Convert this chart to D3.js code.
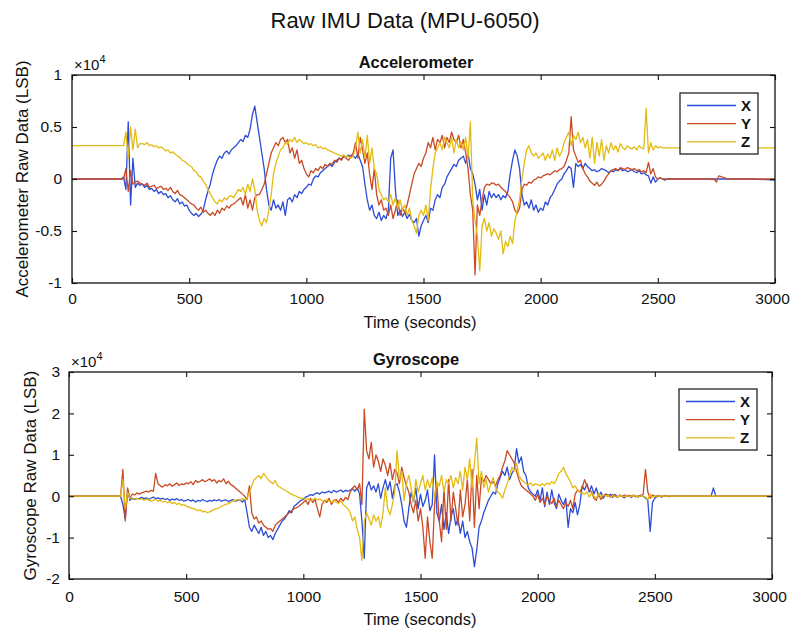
<!DOCTYPE html>
<html>
<head>
<meta charset="utf-8">
<script src="https://cdn.jsdelivr.net/npm/d3@7"></script>
<style>
  body { margin: 0; background: #fff; }
  svg text { font-family: "Liberation Sans", Arial, Helvetica, sans-serif; fill: #111; }
</style>
</head>
<body>
<svg id="chart" width="791" height="634"></svg>
<script>
// time base in seconds: flat start, 10 s samples over the active part, sparse tail
const headTime = [0];
const denseTime = d3.range(200, 2600, 10);
const tailTime = [2650, 2700, 2740, 2750, 2760, 2800, 2900, 3000];
const time = headTime.concat(denseTime, tailTime);

// all values below are in units of 100 LSB
const accelX = [0,
  0,0,2,-10,55,-25,20,-8,-4,-6,
  -5,-8,-6,-10,-9,-12,-10,-14,-12,-15,
  -14,-18,-16,-20,-22,-19,-24,-22,-26,-25,
  -30,-33,-35,-33,-36,-34,-30,-20,-12,-5,
  5,12,18,22,20,25,27,24,28,30,
  32,35,38,36,42,40,48,62,70,55,
  40,25,10,-10,-25,-30,-20,-28,-25,-30,
  -22,-35,-20,-18,-22,-15,-18,-12,-14,-10,
  -8,-5,-6,0,3,2,6,8,10,12,
  14,12,16,18,20,19,22,21,23,22,
  22,20,24,18,12,-5,-20,-30,-25,-35,
  -38,-32,-40,-35,-38,-30,20,28,-10,-35,
  -30,-36,-32,-38,-34,-40,-42,-38,-55,-45,
  -40,-35,-42,-28,-30,-20,-15,-18,-8,-5,
  2,6,10,14,12,18,20,22,15,25,
  10,5,-5,-20,-10,-30,-15,-25,-12,-18,
  -14,-18,-15,-20,-16,-18,-12,5,18,28,
  22,10,-15,-25,-22,-28,-20,-30,-25,-32,
  -28,-30,-22,-25,-18,-15,-10,-5,-2,0,
  5,8,12,10,-8,15,12,14,10,15,
  12,10,8,9,7,8,10,9,8,6,
  8,7,9,8,10,8,9,7,8,9,
  7,6,8,5,6,4,3,-4,2,-3,
  0,1,0,-1,0,0,0,0,0,0,
  0,0,0,0,0,0,0,-1];

const accelY = [0,
  0,0,0,10,-12,8,-5,-3,-2,-4,
  -5,-6,-4,-8,-7,-6,-9,-8,-7,-10,
  -9,-11,-8,-12,-14,-11,-15,-16,-18,-20,
  -22,-24,-25,-28,-30,-27,-32,-30,-33,-35,
  -32,-35,-30,-33,-28,-30,-26,-28,-25,-24,
  -22,-20,-18,-25,-15,-28,-20,-30,-18,-15,
  -15,-10,-5,5,15,25,30,35,32,38,
  40,35,38,25,30,20,28,15,18,10,
  5,2,8,6,10,8,12,10,14,12,
  15,14,18,16,20,18,22,20,18,22,
  25,35,20,40,28,15,25,5,-10,10,
  -15,-25,-20,-30,-28,-35,-25,-38,-30,-20,
  -35,-28,-32,-25,-15,-5,5,10,15,12,
  20,25,35,30,40,28,38,35,42,30,
  40,35,45,38,35,42,30,38,25,10,
  -15,-30,-92,-25,-35,-20,-8,-5,-6,-4,
  -4,-6,-5,-8,-10,-12,-15,-18,-22,-30,
  -33,-28,-10,-5,-6,-3,-4,-1,0,2,
  1,3,4,5,4,6,8,7,9,10,
  12,18,25,60,28,22,16,18,10,5,
  2,-2,-4,-6,-3,-7,-5,-2,2,5,
  8,9,10,8,11,10,9,11,10,9,
  10,8,9,7,8,6,16,5,10,2,
  0,1,0,0,0,0,0,0,0,0,
  0,0,0,-3,3,0,0,0];

const accelZ = [32,
  32,32,32,45,20,50,28,48,30,34,
  34,33,35,32,33,31,32,30,31,29,
  27,28,25,26,24,22,21,18,17,15,
  13,12,8,7,3,2,-2,-5,-10,-14,
  -18,-22,-24,-20,-22,-18,-20,-17,-16,-18,
  -14,-10,-12,-8,-15,-5,-12,0,-10,-30,
  -40,-45,-38,-42,-30,-15,5,15,22,28,
  30,35,33,38,36,40,35,38,36,34,
  35,33,34,32,33,30,31,29,30,28,
  27,26,25,24,23,22,23,21,22,20,
  22,30,45,25,38,20,42,15,30,10,
  5,-10,-15,-20,-18,-22,-15,-25,-18,-28,
  -20,-30,-25,-35,-28,-40,-45,-52,-35,-30,
  -35,-25,-40,-10,10,25,30,35,28,40,
  35,30,40,25,38,30,35,28,40,20,
  55,-20,-40,-55,-88,-45,-38,-50,-42,-55,
  -48,-52,-58,-50,-72,-60,-65,-55,-62,-40,
  -30,-20,0,15,28,32,25,22,25,20,
  22,25,18,24,20,28,18,30,22,26,
  35,40,45,32,42,38,45,35,40,30,
  38,20,40,15,35,22,38,18,32,25,
  35,28,32,26,34,30,28,32,30,29,
  31,28,32,30,29,68,25,35,28,32,
  30,31,30,30,30,30,30,30,30,30,
  30,30,30,30,30,30,30,30];

const gyroX = [0,
  0,0,0,-20,-55,15,-10,-5,-8,-6,
  -5,-3,-6,-4,-8,-5,-2,-6,-4,-7,
  -5,-8,-6,-10,-7,-9,-6,-10,-8,-12,
  -10,-8,-12,-9,-14,-10,-12,-8,-11,-13,
  -10,-12,-9,-11,-8,-12,-10,-9,-13,-10,
  -8,-12,-10,-9,-14,-8,-40,-75,-85,-70,
  -80,-90,-75,-95,-85,-100,-95,-105,-90,-80,
  -70,-60,-55,-45,-35,-40,-25,-20,-15,-10,
  -8,-2,0,4,2,6,8,5,10,8,
  10,12,8,14,10,12,15,10,14,12,
  15,18,12,20,5,-60,-150,20,35,15,
  25,10,30,-5,20,40,15,35,-5,25,
  30,10,-20,-60,-75,-30,10,-15,20,-30,
  5,-25,-10,15,-35,-20,100,-40,-60,-20,
  -80,-40,-90,-50,-30,-70,-55,-90,-60,-100,
  -85,-110,-125,-170,-130,-75,-60,-40,-25,-10,
  0,10,5,30,45,60,50,70,40,55,
  65,115,80,95,60,50,20,10,5,0,
  15,-10,20,-25,10,-20,15,-15,-30,5,
  -10,-20,-5,-75,-30,-40,-15,-45,-20,25,
  15,30,10,25,5,20,0,10,-5,5,
  0,5,-3,4,-2,3,0,-4,2,0,
  -3,2,0,-2,3,0,-4,-10,-85,-15,
  -5,2,0,-2,1,0,-1,0,1,0,
  0,0,0,20,0,0,0,0];

const gyroY = [0,
  0,0,0,65,-60,20,-5,5,3,8,
  5,8,10,12,10,14,12,55,30,25,
  22,28,25,30,24,28,32,26,30,28,
  32,30,35,28,38,33,36,40,35,38,
  42,36,40,32,38,35,42,30,36,28,
  25,20,15,10,5,0,-8,25,-40,-55,
  -50,-65,-60,-70,-75,-80,-78,-85,-70,-65,
  -60,-55,-50,-45,-40,-35,-30,-28,-25,-20,
  -15,-10,-20,-5,-15,-8,-30,-50,-20,-10,
  -15,-5,-20,-10,-8,-15,-5,-12,-3,-8,
  10,20,25,15,30,-20,210,110,90,130,
  70,100,85,60,90,75,50,80,40,65,
  55,30,70,45,25,10,-20,-40,-10,-60,
  -30,-75,-150,-50,-110,-150,-20,30,-60,-110,
  20,-80,40,-60,10,-30,-70,15,-50,-20,
  40,-60,65,-75,50,-30,45,35,50,40,
  30,35,25,40,50,70,85,110,100,90,
  80,60,40,25,20,15,10,5,0,-10,
  5,-15,-5,-20,0,-10,-18,-5,-25,-10,
  -20,-30,-15,-25,-10,-30,5,15,10,20,
  40,25,15,10,-5,-10,5,-8,0,5,
  3,-2,4,0,-3,2,0,3,-1,2,
  0,3,-2,1,0,4,65,10,-5,3,
  0,-2,1,0,0,1,0,0,0,0,
  0,0,0,0,0,0,0,0];

const gyroZ = [0,
  0,0,0,40,-30,10,-5,-8,-6,-5,
  -8,-6,-10,-7,-9,-12,-10,-8,-12,-10,
  -14,-12,-16,-13,-18,-15,-20,-17,-22,-20,
  -24,-26,-28,-30,-32,-35,-33,-38,-36,-40,
  -38,-35,-32,-30,-28,-25,-22,-20,-18,-15,
  -12,-10,-8,-10,-6,-8,-5,10,25,40,
  45,50,42,55,48,40,35,30,38,25,
  22,18,15,12,8,5,2,0,-3,-5,
  -5,-8,-6,-10,-8,-5,-9,-7,-10,-12,
  -8,-12,-15,-10,-14,-18,-12,-20,-25,-30,
  -40,-60,-50,-80,-100,-155,-60,-40,-55,-70,
  -45,-60,-50,-75,-40,20,-30,-45,-20,10,
  110,40,60,-10,30,50,20,-15,40,10,
  30,50,15,40,20,45,-5,35,25,50,
  10,40,30,50,20,45,30,60,15,70,
  40,90,20,80,140,30,60,20,40,10,
  30,45,20,10,5,-5,15,30,50,70,
  60,80,50,40,35,30,28,32,25,30,
  28,25,30,26,32,28,35,30,40,55,
  60,70,55,45,35,20,25,15,10,8,
  5,10,-2,8,0,-5,6,-2,3,0,
  2,-3,1,0,-2,2,0,-1,1,0,
  -1,2,0,-2,1,0,-2,-8,5,-3,
  0,1,0,0,0,0,0,0,0,0,
  0,0,0,0,0,0,0,0];

const seriesNames = ['X', 'Y', 'Z'];
const seriesColors = ['#2d4cd6', '#c94a24', '#e4bb12'];
const timeTicks = [0, 500, 1000, 1500, 2000, 2500, 3000];
const accelTicks = [-10000, -5000, 0, 5000, 10000];
const gyroTicks = [-20000, -10000, 0, 10000, 20000, 30000];

[accelX, accelY, accelZ, gyroX, gyroY, gyroZ].forEach((s, i) => {
  if (s.length !== time.length) throw new Error('series ' + i + ' has ' + s.length + ' values, expected ' + time.length);
});

const svg = d3.select('#chart');

svg.append('text')
  .attr('x', 405).attr('y', 28)
  .attr('text-anchor', 'middle')
  .style('font-size', '22px')
  .text('Raw IMU Data (MPU-6050)');

function drawPanel(cfg) {
  const x = d3.scaleLinear().domain([0, 3000]).range([cfg.left, cfg.right]);
  const y = d3.scaleLinear().domain(cfg.yDomain).range([cfg.bottom, cfg.top]);
  const g = svg.append('g');

  const clipId = 'clip-' + cfg.id;
  g.append('clipPath').attr('id', clipId)
    .append('rect')
    .attr('x', cfg.left).attr('y', cfg.top)
    .attr('width', cfg.right - cfg.left).attr('height', cfg.bottom - cfg.top);

  const line = d3.line()
    .x((d, i) => x(time[i]))
    .y(d => y(d * 100));

  const lines = g.append('g').attr('clip-path', 'url(#' + clipId + ')');
  cfg.series.forEach((s, i) => {
    lines.append('path')
      .datum(s)
      .attr('fill', 'none')
      .attr('stroke', seriesColors[i])
      .attr('stroke-width', 1.3)
      .attr('stroke-linejoin', 'round')
      .attr('d', line);
  });

  // axes with inward ticks on all four sides
  const fmt = d => String(d / 1e4);
  g.append('g')
    .attr('class', 'xaxis')
    .attr('transform', 'translate(0,' + cfg.bottom + ')')
    .call(d3.axisBottom(x).tickValues(timeTicks).tickSize(-5).tickPadding(cfg.xPad).tickFormat(d3.format('d')));
  g.append('g')
    .attr('transform', 'translate(0,' + cfg.top + ')')
    .call(d3.axisTop(x).tickValues(timeTicks).tickSize(-5).tickFormat(''));
  g.append('g')
    .attr('transform', 'translate(' + cfg.left + ',0)')
    .call(d3.axisLeft(y).tickValues(cfg.yTicks).tickSize(-5).tickPadding(cfg.yPad).tickFormat(fmt));
  g.append('g')
    .attr('transform', 'translate(' + cfg.right + ',0)')
    .call(d3.axisRight(y).tickValues(cfg.yTicks).tickSize(-5).tickFormat(''));

  g.selectAll('.domain').remove();
  g.selectAll('.tick line').attr('stroke', '#111').attr('stroke-width', 1.1);
  g.selectAll('.tick text')
    .style('font-size', '15.5px')
    .style('font-family', '"Liberation Sans", Arial, sans-serif')
    .attr('fill', '#111');
  // keep the last time label inside the page
  g.selectAll('.xaxis .tick text').filter(d => d === 3000).attr('dx', -3);

  g.append('rect')
    .attr('x', cfg.left).attr('y', cfg.top)
    .attr('width', cfg.right - cfg.left).attr('height', cfg.bottom - cfg.top)
    .attr('fill', 'none').attr('stroke', '#111').attr('stroke-width', 1.3);

  // x10^4 exponent
  const ex = g.append('text')
    .attr('x', cfg.left + 2).attr('y', cfg.top - 5)
    .style('font-size', '15px');
  ex.append('tspan').text('\u00d710');
  ex.append('tspan').attr('dy', -7).style('font-size', '11px').text('4');

  g.append('text')
    .attr('x', 416).attr('y', cfg.top - 7)
    .attr('text-anchor', 'middle')
    .style('font-size', '16.5px').style('font-weight', 'bold')
    .text(cfg.title);

  g.append('text')
    .attr('x', 420).attr('y', cfg.bottom + cfg.xlabelDy)
    .attr('text-anchor', 'middle')
    .style('font-size', '16.5px')
    .text('Time (seconds)');

  g.append('text')
    .attr('transform', 'translate(' + cfg.ylabelX + ',' + ((cfg.top + cfg.bottom) / 2) + ') rotate(-90)')
    .attr('text-anchor', 'middle')
    .style('font-size', '17px')
    .text(cfg.ylabel);

  // legend
  const lg = g.append('g');
  lg.append('rect')
    .attr('x', cfg.legend.x).attr('y', cfg.legend.y)
    .attr('width', 78).attr('height', 61)
    .attr('fill', '#fff').attr('stroke', '#111').attr('stroke-width', 1.2);
  seriesNames.forEach((name, i) => {
    const ry = cfg.legend.y + 12.5 + i * 18.2;
    lg.append('line')
      .attr('x1', cfg.legend.x + 7).attr('x2', cfg.legend.x + 56)
      .attr('y1', ry).attr('y2', ry)
      .attr('stroke', seriesColors[i]).attr('stroke-width', 1.3);
    lg.append('text')
      .attr('x', cfg.legend.x + 61).attr('y', ry + 5.5)
      .style('font-size', '15px').style('font-weight', 'bold')
      .text(name);
  });
}

drawPanel({
  id: 'acc', left: 72, right: 775, top: 75, bottom: 283,
  yDomain: [-10000, 10000], yTicks: accelTicks,
  series: [accelX, accelY, accelZ],
  title: 'Accelerometer', ylabel: 'Accelerometer Raw Data (LSB)', ylabelX: 28,
  xPad: 10, yPad: 10, xlabelDy: 45,
  legend: { x: 680, y: 93 }
});

drawPanel({
  id: 'gyr', left: 69, right: 772, top: 372, bottom: 579,
  yDomain: [-20000, 30000], yTicks: gyroTicks,
  series: [gyroX, gyroY, gyroZ],
  title: 'Gyroscope', ylabel: 'Gyroscope Raw Data (LSB)', ylabelX: 36,
  xPad: 12, yPad: 9, xlabelDy: 46,
  legend: { x: 679, y: 389 }
});
</script>
</body>
</html>
